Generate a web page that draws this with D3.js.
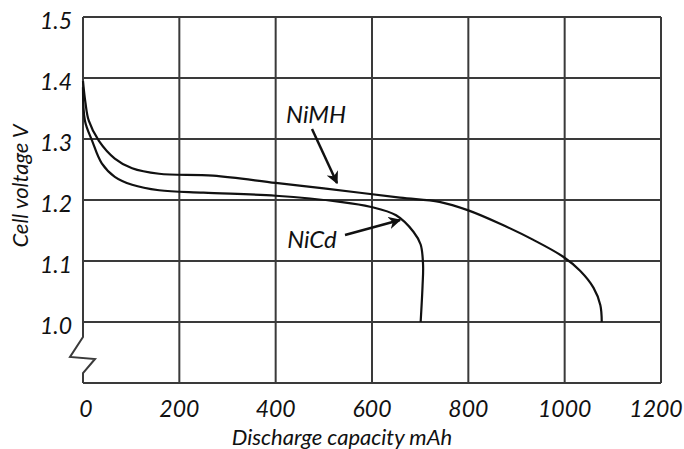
<!DOCTYPE html>
<html>
<head>
<meta charset="utf-8">
<script src="https://cdn.jsdelivr.net/npm/d3@7"></script>
<style>
  body { margin: 0; background: #fff; }
  text { font-family: Lato, "Open Sans", sans-serif; font-style: italic; fill: #111; }
</style>
</head>
<body>
<script>
// chart values
const xTicks = [0, 200, 400, 600, 800, 1000, 1200];
const yTicks = [1.0, 1.1, 1.2, 1.3, 1.4, 1.5];
const yTickLabels = ["1.0", "1.1", "1.2", "1.3", "1.4", "1.5"];

const nimhCap = [0, 5, 12, 33, 66, 102, 158, 270, 400, 500, 658, 740, 800, 866, 934, 997, 1032, 1060, 1074, 1077];
const nimhV   = [1.395, 1.36, 1.33, 1.297, 1.268, 1.252, 1.243, 1.240, 1.228, 1.219, 1.204, 1.197, 1.183, 1.161, 1.135, 1.107, 1.084, 1.056, 1.028, 1.0];

const nicdCap = [0, 4, 19, 39, 66, 102, 158, 250, 400, 534, 596, 650, 686, 701, 706, 705, 701];
const nicdV   = [1.385, 1.33, 1.297, 1.26, 1.238, 1.225, 1.216, 1.212, 1.207, 1.197, 1.189, 1.175, 1.148, 1.127, 1.094, 1.06, 1.0];

const svgWidth = 684, svgHeight = 449;
const plotLeft = 83, plotRight = 661, plotTop = 17, plotBottom = 383;

const svg = d3.select("body").append("svg")
  .attr("width", svgWidth)
  .attr("height", svgHeight);

const x = d3.scaleLinear().domain([0, 1200]).range([plotLeft, plotRight]);
const y = d3.scaleLinear().domain([0.9, 1.5]).range([plotBottom, plotTop]);

const gridColor = "#3a3a3a";

// vertical grid lines (skip 0, the axis has a break)
svg.append("g").selectAll("line")
  .data(xTicks.slice(1))
  .join("line")
  .attr("x1", d => x(d)).attr("x2", d => x(d))
  .attr("y1", plotTop).attr("y2", plotBottom)
  .attr("stroke", gridColor).attr("stroke-width", 2);

// horizontal grid lines
svg.append("g").selectAll("line")
  .data(yTicks)
  .join("line")
  .attr("x1", plotLeft).attr("x2", plotRight)
  .attr("y1", d => y(d)).attr("y2", d => y(d))
  .attr("stroke", gridColor).attr("stroke-width", 2);

// bottom edge
svg.append("line")
  .attr("x1", plotLeft).attr("x2", plotRight)
  .attr("y1", plotBottom).attr("y2", plotBottom)
  .attr("stroke", gridColor).attr("stroke-width", 2);

// left axis with the zigzag break
const brk = [[plotLeft, plotTop], [plotLeft, 337], [70, 357], [95, 359], [plotLeft, 373], [plotLeft, plotBottom]];
svg.append("path")
  .attr("d", d3.line()(brk))
  .attr("fill", "none")
  .attr("stroke", gridColor).attr("stroke-width", 2)
  .attr("stroke-linejoin", "miter");

// tick labels
svg.append("g").selectAll("text")
  .data(yTicks)
  .join("text")
  .attr("x", 72)
  .attr("y", d => y(d) + 12)
  .attr("text-anchor", "end")
  .attr("font-size", 23)
  .text((d, i) => yTickLabels[i]);

svg.append("g").selectAll("text")
  .data(xTicks)
  .join("text")
  .attr("x", d => x(d) + (d === 0 ? 3 : d === 1200 ? -5 : 0))
  .attr("y", 417)
  .attr("text-anchor", "middle")
  .attr("font-size", 23)
  .text(d => d);

// axis titles
svg.append("text")
  .attr("x", 342).attr("y", 445)
  .attr("text-anchor", "middle")
  .attr("font-size", 22)
  .text("Discharge capacity mAh");

svg.append("text")
  .attr("transform", "translate(28,186) rotate(-90)")
  .attr("text-anchor", "middle")
  .attr("font-size", 22)
  .text("Cell voltage V");

// curves
const line = d3.line()
  .curve(d3.curveCatmullRom.alpha(0.5))
  .x(d => x(d[0]))
  .y(d => y(d[1]));

const nimh = nimhCap.map((c, i) => [c, nimhV[i]]);
const nicd = nicdCap.map((c, i) => [c, nicdV[i]]);

[nimh, nicd].forEach(pts => {
  svg.append("path")
    .attr("d", line(pts))
    .attr("fill", "none")
    .attr("stroke", "#111")
    .attr("stroke-width", 2.2);
});

// arrow marker
svg.append("defs").append("marker")
  .attr("id", "arrow")
  .attr("viewBox", "0 0 10 10")
  .attr("refX", 9).attr("refY", 5)
  .attr("markerWidth", 5).attr("markerHeight", 5)
  .attr("orient", "auto")
  .append("path")
  .attr("d", "M0,0 L10,5 L0,10 L3,5 Z")
  .attr("fill", "#111");

// labels with arrows
svg.append("text")
  .attr("x", 316).attr("y", 123)
  .attr("text-anchor", "middle")
  .attr("font-size", 24)
  .text("NiMH");
svg.append("line")
  .attr("x1", 312).attr("y1", 129)
  .attr("x2", 337).attr("y2", 183)
  .attr("stroke", "#111").attr("stroke-width", 2.5)
  .attr("marker-end", "url(#arrow)");

svg.append("text")
  .attr("x", 312).attr("y", 248)
  .attr("text-anchor", "middle")
  .attr("font-size", 24)
  .text("NiCd");
svg.append("line")
  .attr("x1", 345).attr("y1", 235)
  .attr("x2", 400).attr("y2", 220)
  .attr("stroke", "#111").attr("stroke-width", 2.5)
  .attr("marker-end", "url(#arrow)");
</script>
</body>
</html>
